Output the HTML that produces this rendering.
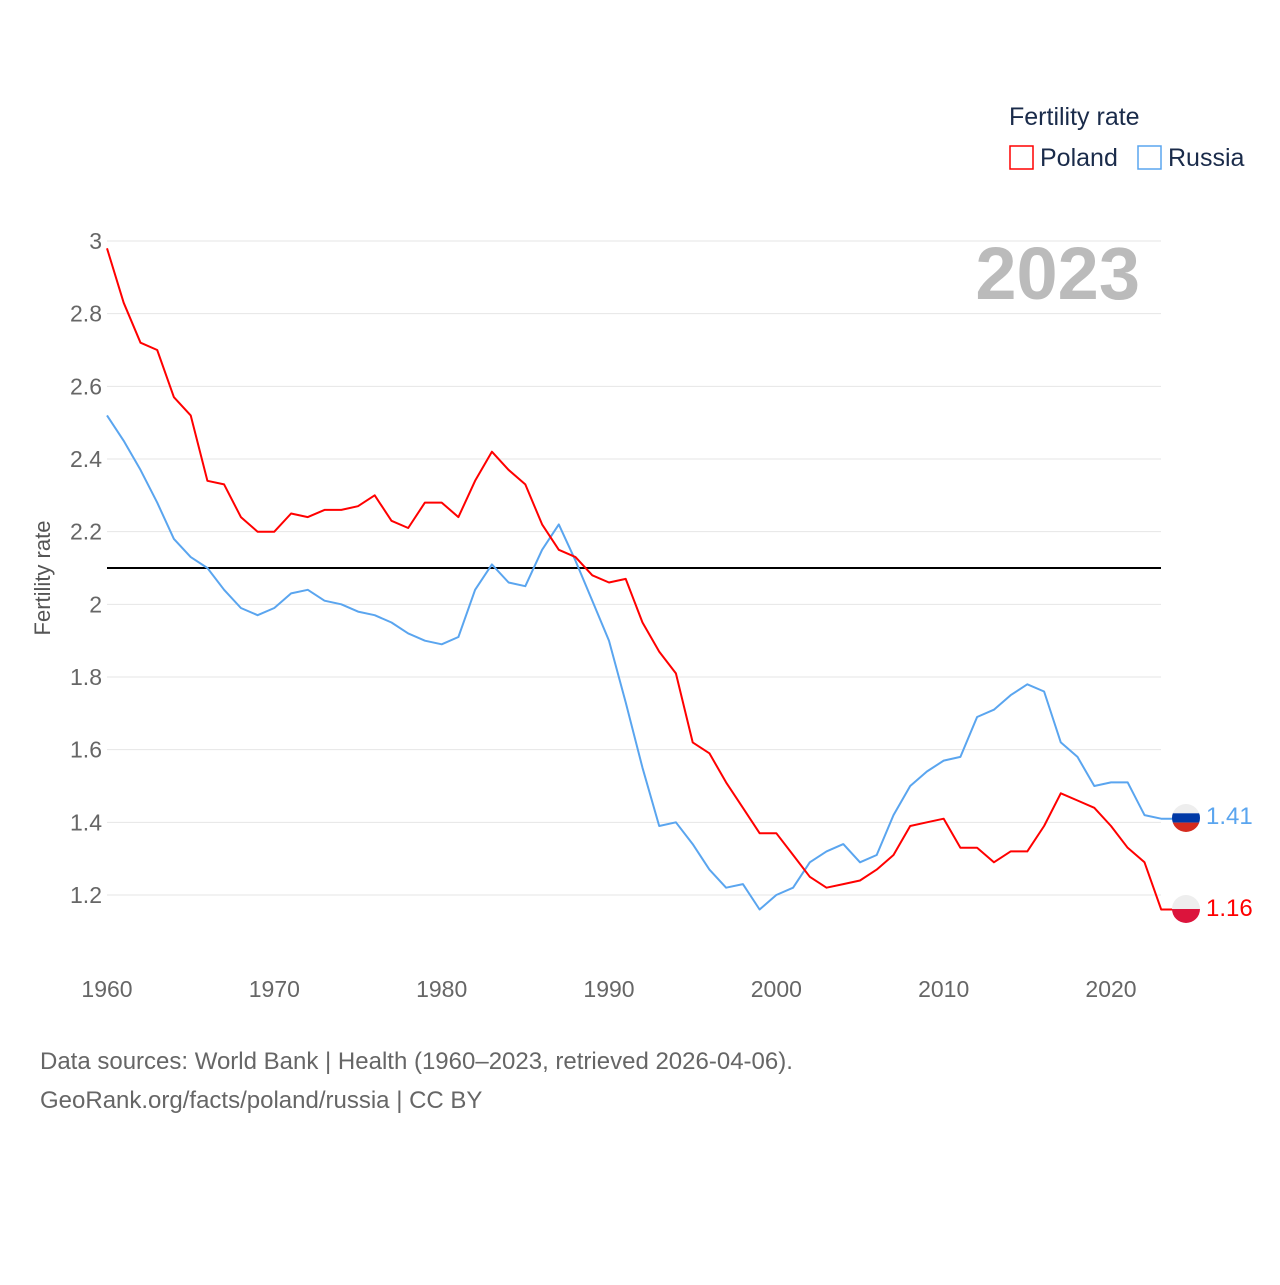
<!DOCTYPE html>
<html><head><meta charset="utf-8">
<style>
body{margin:0;background:#fff;font-family:"Liberation Sans",sans-serif;}
svg text{font-family:"Liberation Sans",sans-serif;}
</style></head>
<body>
<svg id="chart" width="1280" height="1280" viewBox="0 0 1280 1280" xmlns="http://www.w3.org/2000/svg">
<rect width="1280" height="1280" fill="#fff"/>
<g id="grid"></g>
<g id="yticks"></g>
<g id="xticks"></g>
<text x="50" y="578" transform="rotate(-90 50 578)" text-anchor="middle" font-size="22" fill="#555">Fertility rate</text>
<text x="1140" y="299" text-anchor="end" font-size="74" font-weight="bold" fill="#bbb">2023</text>
<line x1="107" x2="1161" y1="568" y2="568" stroke="#000" stroke-width="2"/>
<g id="series"></g>
<g>
<text x="1009" y="125" font-size="25" fill="#1a2b4a">Fertility rate</text>
<rect x="1010" y="146" width="23" height="23" fill="none" stroke="#f00" stroke-width="1.5"/>
<text x="1040" y="166" font-size="25" fill="#1a2b4a">Poland</text>
<rect x="1138" y="146" width="23" height="23" fill="none" stroke="#5aa5ef" stroke-width="1.5"/>
<text x="1168" y="166" font-size="25" fill="#1a2b4a">Russia</text>
</g>
<g>
<clipPath id="cr"><circle cx="1186" cy="818" r="14"/></clipPath>
<g clip-path="url(#cr)"><rect x="1172" y="804" width="28" height="9.3" fill="#eee"/><rect x="1172" y="813.3" width="28" height="9.3" fill="#0039a6"/><rect x="1172" y="822.6" width="28" height="9.4" fill="#d52b1e"/></g>
</g>
<g>
<clipPath id="cp"><circle cx="1186" cy="909" r="14"/></clipPath>
<g clip-path="url(#cp)"><rect x="1172" y="895" width="28" height="14" fill="#eee"/><rect x="1172" y="909" width="28" height="14" fill="#dc143c"/></g>
</g>
<text id="lblR" x="1206" y="824" font-size="24" fill="#5aa5ef">1.41</text>
<text id="lblP" x="1206" y="916" font-size="24" fill="#f00">1.16</text>
<text x="40" y="1069" font-size="24" fill="#666">Data sources: World Bank | Health (1960–2023, retrieved 2026-04-06).</text>
<text x="40" y="1108" font-size="24" fill="#666">GeoRank.org/facts/poland/russia | CC BY</text>
</svg>
<script>
const years=[];for(let y=1960;y<=2023;y++)years.push(y);
const poland=[2.98,2.83,2.72,2.70,2.57,2.52,2.34,2.33,2.24,2.20,2.20,2.25,2.24,2.26,2.26,2.27,2.30,2.23,2.21,2.28,2.28,2.24,2.34,2.42,2.37,2.33,2.22,2.15,2.13,2.08,2.06,2.07,1.95,1.87,1.81,1.62,1.59,1.51,1.44,1.37,1.37,1.31,1.25,1.22,1.23,1.24,1.27,1.31,1.39,1.40,1.41,1.33,1.33,1.29,1.32,1.32,1.39,1.48,1.46,1.44,1.39,1.33,1.29,1.16];
const russia=[2.52,2.45,2.37,2.28,2.18,2.13,2.10,2.04,1.99,1.97,1.99,2.03,2.04,2.01,2.00,1.98,1.97,1.95,1.92,1.90,1.89,1.91,2.04,2.11,2.06,2.05,2.15,2.22,2.12,2.01,1.90,1.73,1.55,1.39,1.40,1.34,1.27,1.22,1.23,1.16,1.20,1.22,1.29,1.32,1.34,1.29,1.31,1.42,1.50,1.54,1.57,1.58,1.69,1.71,1.75,1.78,1.76,1.62,1.58,1.50,1.51,1.51,1.42,1.41];
const yTicks=[1.2,1.4,1.6,1.8,2,2.2,2.4,2.6,2.8,3];
const xTicks=[1960,1970,1980,1990,2000,2010,2020];
const X=y=>107+(y-1960)*(1004/60);
const Y=v=>241+(3-v)*363.33;
const NS="http://www.w3.org/2000/svg";
function mk(t,a,p){const e=document.createElementNS(NS,t);for(const k in a)e.setAttribute(k,a[k]);p.appendChild(e);return e;}
const grid=document.getElementById('grid'),yt=document.getElementById('yticks'),xt=document.getElementById('xticks');
yTicks.forEach(v=>{
 const l=mk('line',{x1:107,x2:1161,y1:Y(v),y2:Y(v),stroke:'#e6e6e6','stroke-width':1},grid);
 
 
 const t=mk('text',{x:102,y:Y(v)+8,'text-anchor':'end','font-size':23,fill:'#666'},yt);
 t.textContent=String(v);
 
 
});
xTicks.forEach(v=>{
 const t=mk('text',{x:X(v),y:997,'text-anchor':'middle','font-size':23,fill:'#666'},xt);
 t.textContent=String(v);
 
 
});
const sg=document.getElementById('series');
function line(data,color,name){
 let d=data.map((v,i)=>(i?'L':'M')+X(years[i]).toFixed(1)+','+Y(v).toFixed(1)).join(' ');
 d+=' L1186,'+Y(data[data.length-1]).toFixed(1);
 const p=mk('path',{d:d,fill:'none',stroke:color,'stroke-width':2,'stroke-linejoin':'round'},sg);
 
 
}
line(russia,'#5aa5ef','russia-line');
line(poland,'#f00','poland-line');
document.getElementById('lblR').textContent=russia[russia.length-1].toFixed(2);
document.getElementById('lblP').textContent=poland[poland.length-1].toFixed(2);
</script>
</body></html>
